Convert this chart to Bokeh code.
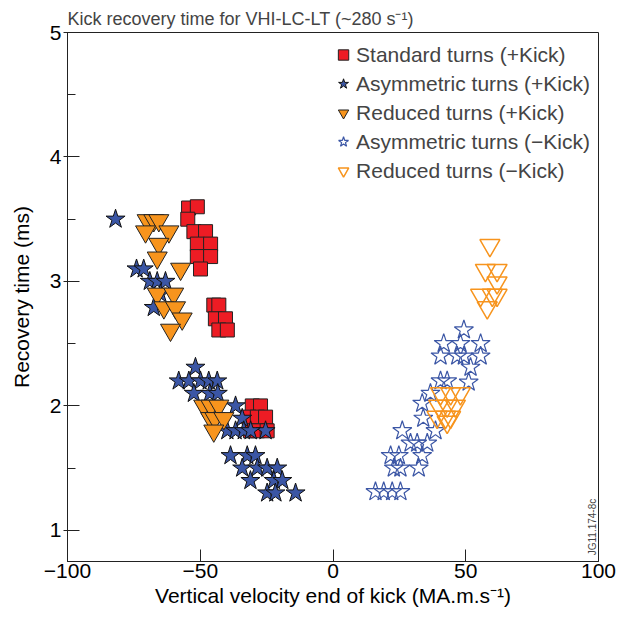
import math
from bokeh.plotting import figure
from bokeh.models import FixedTicker, CustomJSTickFormatter, Label, Legend, LegendItem, Range1d
from bokeh.embed import file_html
from bokeh.resources import INLINE

# ---- data ----
std_plus_x = [-54.4, -51.1, -54.7, -52.4, -48.0, -51.1, -46.1, -51.1, -46.1, -49.9,
              -44.9, -43.0, -44.3, -40.5, -43.0, -39.8,
              -30.4, -27.3, -31.7, -28.5, -25.4, -31.1, -28.5, -24.8]
std_plus_y = [3.59, 3.60, 3.50, 3.40, 3.40, 3.30, 3.30, 3.20, 3.20, 3.10,
              2.81, 2.81, 2.70, 2.70, 2.61, 2.61,
              2.00, 2.00, 1.91, 1.91, 1.91, 1.80, 1.80, 1.80]

asym_plus_x = [-81.9, -74.0, -71.3, -69.0, -66.2, -63.1, -67.5, -65.0,
               -51.8, -58.1, -54.3, -49.9, -46.8, -43.6, -52.4, -46.4, -43.4,
               -36.7, -34.2, -39.8, -36.7, -33.6, -25.4, -31.0,
               -38.6, -32.3, -29.2, -34.2, -28.5, -24.8, -21.0,
               -31.1, -22.3, -19.1, -24.8, -21.7, -14.1]
asym_plus_y = [3.50, 3.10, 3.10, 3.00, 3.00, 3.00, 2.79, 2.90,
               2.31, 2.20, 2.20, 2.20, 2.20, 2.20, 2.10, 2.10, 2.10,
               2.00, 1.90, 1.80, 1.80, 1.80, 1.80, 1.80,
               1.60, 1.60, 1.60, 1.50, 1.50, 1.50, 1.50,
               1.40, 1.40, 1.40, 1.30, 1.30, 1.30]

red_plus_x = [-70.0, -67.5, -65.6, -70.6, -61.8, -65.6, -66.2, -57.4,
              -66.2, -60.0, -63.7, -59.3, -56.8, -61.2,
              -48.7, -46.0, -43.0, -46.1, -44.5, -41.1, -44.9]
red_plus_y = [3.49, 3.49, 3.49, 3.40, 3.40, 3.30, 3.19, 3.10,
              2.90, 2.90, 2.79, 2.79, 2.70, 2.61,
              2.00, 2.00, 2.00, 1.90, 1.90, 1.90, 1.80]

asym_minus_x = [49.3, 41.7, 48.0, 55.6, 40.5, 46.8, 49.3, 55.6, 51.8,
                51.1, 40.5, 43.0, 36.7, 33.6, 34.0, 38.6, 26.1,
                29.2, 31.7, 35.5, 21.7, 24.8, 33.6, 22.9, 25.4, 32.3,
                16.0, 19.1, 22.3, 25.4]
asym_minus_y = [2.61, 2.50, 2.50, 2.50, 2.40, 2.40, 2.40, 2.40, 2.31,
                2.19, 2.20, 2.20, 2.10, 2.02, 1.90, 1.80, 1.80,
                1.70, 1.70, 1.70, 1.60, 1.60, 1.60, 1.50, 1.50, 1.50,
                1.31, 1.31, 1.31, 1.31]

red_minus_x = [59.1, 57.4, 61.8, 61.8, 55.6, 60.0, 61.8, 58.1,
               40.5, 44.3, 48.0, 39.8, 43.0, 46.1, 39.2, 42.4, 44.3, 43.0]
red_minus_y = [3.29, 3.09, 3.09, 2.99, 2.89, 2.89, 2.89, 2.79,
               2.10, 2.10, 2.10, 2.00, 2.00, 2.00, 1.91, 1.91, 1.91, 1.87]

x_ticks = [-100, -50, 0, 50, 100]
y_ticks = [1, 2, 3, 4, 5]
y_minor = [1.5, 2.5, 3.5, 4.5]

FONT = "Liberation Sans"
RED = "#ed1c24"
BLUE = "#3b56a5"
ORANGE = "#f7941d"

p = figure(width=617, height=617, output_backend="svg", toolbar_location=None,
           x_range=Range1d(-100, 100), y_range=Range1d(0.75, 5),
           min_border_left=67, min_border_right=19, min_border_top=32, min_border_bottom=56)

p.title.text = "Kick recovery time for VHI-LC-LT (~280 s\u207b\u00b9)"
p.title.text_font = FONT
p.title.text_font_size = "18px"
p.title.text_font_style = "normal"
p.title.align = "left"
p.title.offset = 0
p.title.standoff = 7

p.xgrid.visible = False
p.ygrid.visible = False
p.outline_line_color = "#222222"
p.outline_line_width = 1

fmt = CustomJSTickFormatter(code="return tick < 0 ? '\u2212' + Math.abs(tick) : tick.toString();")

xa = p.xaxis[0]
xa.ticker = FixedTicker(ticks=x_ticks, minor_ticks=[])
xa.formatter = fmt
xa.major_tick_in = 12
xa.major_tick_out = 0
xa.minor_tick_in = 0
xa.minor_tick_out = 0
xa.axis_label = "Vertical velocity end of kick (MA.m.s\u207b\u00b9)"

ya = p.yaxis[0]
ya.ticker = FixedTicker(ticks=y_ticks, minor_ticks=y_minor)
ya.major_tick_in = 12
ya.major_tick_out = 4
ya.minor_tick_in = 8
ya.minor_tick_out = 0
ya.axis_label = "Recovery time (ms)"
ya.major_label_orientation = "horizontal"

for ax in (xa, ya):
    ax.axis_line_color = "#222222"
    ax.major_tick_line_color = "#222222"
    ax.minor_tick_line_color = "#222222"
    ax.major_label_text_font = FONT
    ax.major_label_text_font_size = "21px"
    ax.major_label_text_color = "black"
    ax.major_label_standoff = 2
    ax.axis_label_text_font = FONT
    ax.axis_label_text_font_size = "21px"
    ax.axis_label_text_font_style = "normal"
    ax.axis_label_text_color = "black"
xa.axis_label_standoff = 3
ya.axis_label_standoff = 14

r1 = p.scatter(std_plus_x, std_plus_y, marker="square", size=14,
               fill_color=RED, line_color="#222222", line_width=1)
r2 = p.scatter(asym_plus_x, asym_plus_y, marker="star", size=20,
               fill_color=BLUE, line_color="#111111", line_width=1)
r3 = p.scatter(red_plus_x, red_plus_y, marker="inverted_triangle", size=20,
               fill_color=ORANGE, line_color="#222222", line_width=1)
r4 = p.scatter(asym_minus_x, asym_minus_y, marker="star", size=20,
               fill_color=None, line_color=BLUE, line_width=1.2)
r5 = p.scatter(red_minus_x, red_minus_y, marker="inverted_triangle", size=20,
               fill_color=None, line_color=ORANGE, line_width=1.5)

legend = Legend(items=[
    LegendItem(label="Standard turns (+Kick)", renderers=[r1]),
    LegendItem(label="Asymmetric turns (+Kick)", renderers=[r2]),
    LegendItem(label="Reduced turns (+Kick)", renderers=[r3]),
    LegendItem(label="Asymmetric turns (\u2212Kick)", renderers=[r4]),
    LegendItem(label="Reduced turns (\u2212Kick)", renderers=[r5]),
], location="top_right")
legend.label_text_font = FONT
legend.label_text_font_size = "21px"
legend.glyph_width = 26
legend.glyph_height = 29
legend.label_height = 22
legend.spacing = 0
legend.label_standoff = 0
legend.padding = 5
legend.margin = 8
legend.border_line_color = None
legend.background_fill_alpha = 0
p.add_layout(legend)

jg = Label(x=100, y=0.80, text="JG11.174-8c", angle=math.pi / 2,
           text_font=FONT, text_font_size="10px", text_align="left",
           text_baseline="bottom", x_offset=-1)
p.add_layout(jg)

open("out.html", "w").write(file_html(p, INLINE))
